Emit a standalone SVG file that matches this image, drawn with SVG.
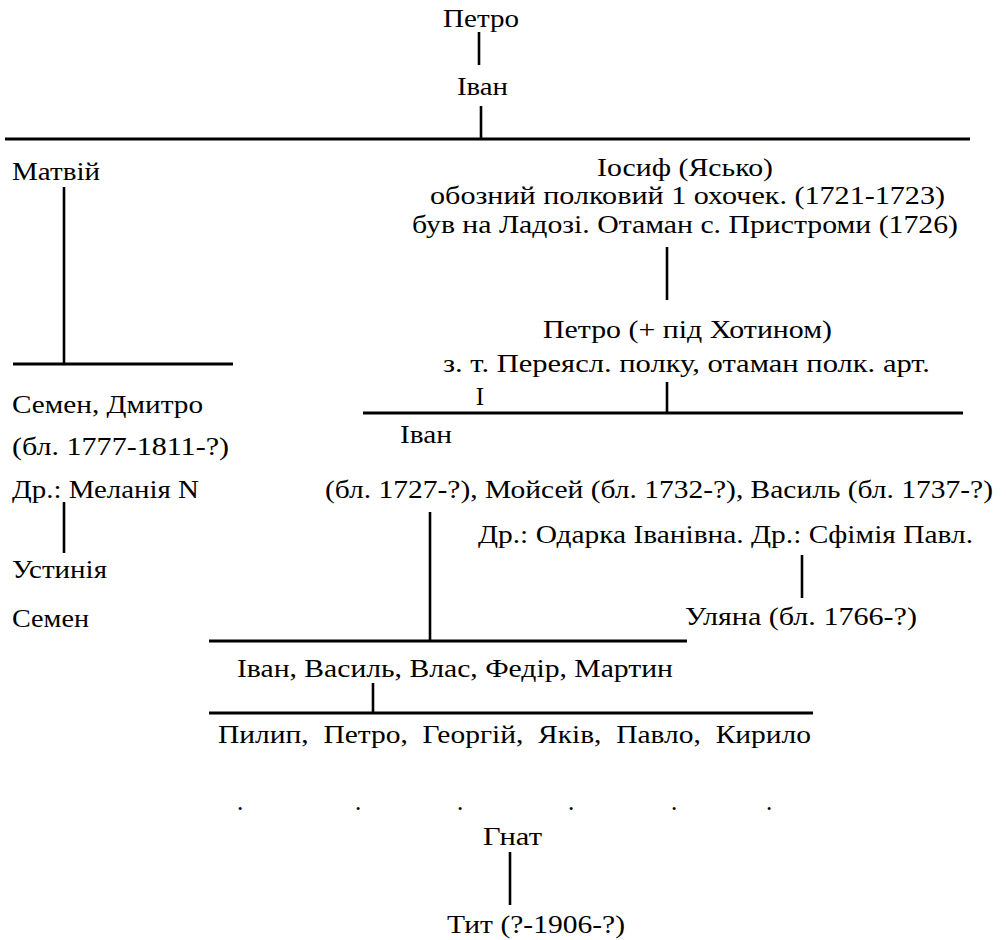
<svg xmlns="http://www.w3.org/2000/svg" width="1006" height="940" viewBox="0 0 1006 940">
<style>
text { font-family: "Liberation Serif", "Times New Roman", serif; font-size: 25px; fill: #000; }
.pre { white-space: pre; }
.h { stroke: #000; stroke-width: 3; fill: none; }
.v { stroke: #000; stroke-width: 2.6; fill: none; }
</style>
<rect width="1006" height="940" fill="#fff"/>
<g id="connectors">
  <line class="v" x1="479" y1="32" x2="479" y2="65"/>
  <line class="v" x1="481" y1="106" x2="481" y2="139"/>
  <line class="h" x1="5" y1="139" x2="970" y2="139"/>
  <line class="v" x1="64" y1="187" x2="64" y2="364"/>
  <line class="h" x1="13" y1="364" x2="233" y2="364"/>
  <line class="v" x1="667" y1="247" x2="667" y2="300"/>
  <line class="v" x1="667" y1="382" x2="667" y2="413"/>
  <line class="h" x1="363" y1="413" x2="963" y2="413"/>
  <line class="v" x1="64" y1="502" x2="64" y2="553"/>
  <line class="v" x1="430" y1="512" x2="430" y2="641"/>
  <line class="h" x1="209" y1="641" x2="687" y2="641"/>
  <line class="v" x1="802" y1="555" x2="802" y2="598"/>
  <line class="v" x1="373" y1="683" x2="373" y2="713"/>
  <line class="h" x1="209" y1="713" x2="813" y2="713"/>
  <line class="v" x1="510" y1="852" x2="510" y2="905"/>
</g>
<g id="n-petro1"><text x="443" y="27" textLength="76" lengthAdjust="spacingAndGlyphs">Петро</text></g>
<g id="n-ivan1"><text x="457" y="95" textLength="51" lengthAdjust="spacingAndGlyphs">Іван</text></g>
<g id="n-matviy"><text x="12" y="180" textLength="88" lengthAdjust="spacingAndGlyphs">Матвій</text></g>
<g id="n-iosyf">
  <text x="597" y="176" textLength="176" lengthAdjust="spacingAndGlyphs">Іосиф (Ясько)</text>
  <text x="430" y="204" textLength="515" lengthAdjust="spacingAndGlyphs">обозний полковий 1 охочек. (1721-1723)</text>
  <text x="412" y="233" textLength="546" lengthAdjust="spacingAndGlyphs">був на Ладозі. Отаман с. Пристроми (1726)</text>
</g>
<g id="n-petro2">
  <text x="543" y="338" textLength="289" lengthAdjust="spacingAndGlyphs">Петро (+ під Хотином)</text>
  <text x="443" y="372" textLength="487" lengthAdjust="spacingAndGlyphs">з. т. Переясл. полку, отаман полк. арт.</text>
  <text x="480" y="405" text-anchor="middle">I</text>
</g>
<g id="n-semen-dmytro">
  <text x="12" y="413" textLength="191" lengthAdjust="spacingAndGlyphs">Семен, Дмитро</text>
  <text x="12" y="455" textLength="217" lengthAdjust="spacingAndGlyphs">(бл. 1777-1811-?)</text>
  <text x="12" y="498" textLength="187" lengthAdjust="spacingAndGlyphs">Др.: Меланія N</text>
</g>
<g id="n-ustyniia"><text x="12" y="578" textLength="95" lengthAdjust="spacingAndGlyphs">Устинія</text></g>
<g id="n-semen"><text x="12" y="627" textLength="77" lengthAdjust="spacingAndGlyphs">Семен</text></g>
<g id="n-ivan2">
  <text x="400" y="443" textLength="52" lengthAdjust="spacingAndGlyphs">Іван</text>
  <text x="325" y="498" textLength="668" lengthAdjust="spacingAndGlyphs">(бл. 1727-?), Мойсей (бл. 1732-?), Василь (бл. 1737-?)</text>
  <text x="478" y="543" textLength="495" lengthAdjust="spacingAndGlyphs">Др.: Одарка Іванівна. Др.: Сфімія Павл.</text>
</g>
<g id="n-uliana"><text x="685" y="625" textLength="232" lengthAdjust="spacingAndGlyphs">Уляна (бл. 1766-?)</text></g>
<g id="n-ivan3"><text x="237" y="677" textLength="436" lengthAdjust="spacingAndGlyphs">Іван, Василь, Влас, Федір, Мартин</text></g>
<g id="n-pylyp"><text class="pre" x="218" y="743" textLength="593" lengthAdjust="spacingAndGlyphs">Пилип,  Петро,  Георгій,  Яків,  Павло,  Кирило</text></g>
<g id="dots">
  <text x="240" y="810" text-anchor="middle">.</text>
  <text x="358" y="810" text-anchor="middle">.</text>
  <text x="460" y="810" text-anchor="middle">.</text>
  <text x="571" y="810" text-anchor="middle">.</text>
  <text x="674" y="810" text-anchor="middle">.</text>
  <text x="769" y="810" text-anchor="middle">.</text>
</g>
<g id="n-hnat"><text x="483" y="845" textLength="59" lengthAdjust="spacingAndGlyphs">Гнат</text></g>
<g id="n-tyt"><text x="447" y="933" textLength="178" lengthAdjust="spacingAndGlyphs">Тит (?-1906-?)</text></g>
</svg>
